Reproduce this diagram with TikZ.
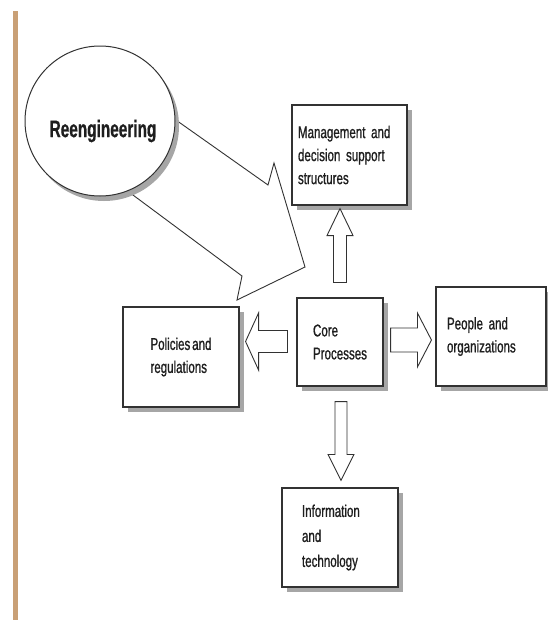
\documentclass[tikz,border=0pt]{standalone}
\usepackage{fontspec}
\newfontfamily\cond[FakeStretch=0.68,FakeBold=0.9,WordSpace=0.6]{Liberation Sans}
\newfontfamily\condb[FakeStretch=0.64,FakeBold=0.6]{Liberation Sans Bold}
\usetikzlibrary{shadows,calc}
\definecolor{tanbar}{RGB}{201,160,118}
\definecolor{ink}{RGB}{30,30,30}
\definecolor{edge}{RGB}{50,50,50}
\begin{document}
\begin{tikzpicture}[x=1pt,y=-1pt,
  box/.style={draw=edge, line width=1.1pt, fill=white, rectangle, inner ysep=0pt,
    align=left, font=\cond\fontsize{17}{23}\selectfont, text=ink,
    drop shadow={shadow xshift=5pt, shadow yshift=-5pt, fill=black!35, opacity=1}},
  blk/.style={draw=edge, line width=0.9pt, fill=white, line join=miter}]
\useasboundingbox (0,0) rectangle (547,630);
\fill[white] (0,0) rectangle (547,630);
\fill[tanbar] (13,11) rectangle (18,620);

% boxes
\node[box, minimum width=115pt, minimum height=100pt, text width=103pt, inner xsep=6pt] (mgmt) at (349.5,155) {Management and\\decision support\\structures};
\node[box, minimum width=86pt, minimum height=88pt] (core) at (340,342) {Core\\Processes};
\node[box, minimum width=116pt, minimum height=100pt] (pol) at (181,357) {Policies and\\regulations};
\node[box, minimum width=110pt, minimum height=99pt, text width=88pt, inner xsep=11pt] (people) at (491,336.5) {People and\\organizations};
\node[box, minimum width=116pt, minimum height=99pt, text width=76pt, inner xsep=20pt, font=\cond\fontsize{17}{25}\selectfont] (info) at (340,537.5) {Information\\and\\technology};

% block arrows
\draw[blk] let \p1=(core.north), \p2=(mgmt.south) in
  (\x1-6.5pt,\y1+15pt) -- (\x1-6.5pt,\y2-30pt) -- (\x1-13pt,\y2-30pt) -- (\x1,\y2-3pt)
  -- (\x1+13pt,\y2-30pt) -- (\x1+6.5pt,\y2-30pt) -- (\x1+6.5pt,\y1+15pt) -- cycle;
\draw[blk] let \p1=(core.south), \p2=(info.north) in
  (\x1-5pt,\y1-15pt) -- (\x1-5pt,\y2+33pt) -- (\x1-12pt,\y2+33pt) -- (\x1+1pt,\y2+7pt)
  -- (\x1+14pt,\y2+33pt) -- (\x1+7pt,\y2+33pt) -- (\x1+7pt,\y1-15pt) -- cycle;
\draw[blk] let \p1=(core.west), \p2=(pol.east) in
  (\x1-9pt,\y1+11.5pt) -- (\x2+19pt,\y1+11.5pt) -- (\x2+19pt,\y1+29pt) -- (\x2+6pt,\y1+0.5pt)
  -- (\x2+19pt,\y1-28pt) -- (\x2+19pt,\y1-10.5pt) -- (\x1-9pt,\y1-10.5pt) -- cycle;
\draw[blk] let \p1=(core.east), \p2=(people.west) in
  (\x1+7pt,\y1+14pt) -- (\x2-18pt,\y1+14pt) -- (\x2-18pt,\y1+29pt) -- (\x2-4pt,\y1+2pt)
  -- (\x2-18pt,\y1-25pt) -- (\x2-18pt,\y1-10pt) -- (\x1+7pt,\y1-10pt) -- cycle;

% big arrow from the circle
\coordinate (rc) at (100,121);
\draw[blk] ([shift={(49,-20)}]rc) -- ([shift={(168,64)}]rc) -- ([shift={(174,42)}]rc)
  -- ([shift={(205,146)}]rc) -- ([shift={(137,179)}]rc) -- ([shift={(142,155)}]rc)
  -- ([shift={(5.5,53.6)}]rc) -- cycle;

% circle
\node[circle, draw=edge, line width=1pt, fill=white, minimum size=150pt, inner sep=0pt,
  drop shadow={shadow xshift=4pt, shadow yshift=-5pt, fill=black!35, opacity=1}] (reeng) at (rc) {};
\node[font=\condb\fontsize{24}{28}\selectfont, text=ink, inner sep=0pt] (reengtext) at ([shift={(3,10)}]reeng.center) {Reengineering};
\end{tikzpicture}
\end{document}
